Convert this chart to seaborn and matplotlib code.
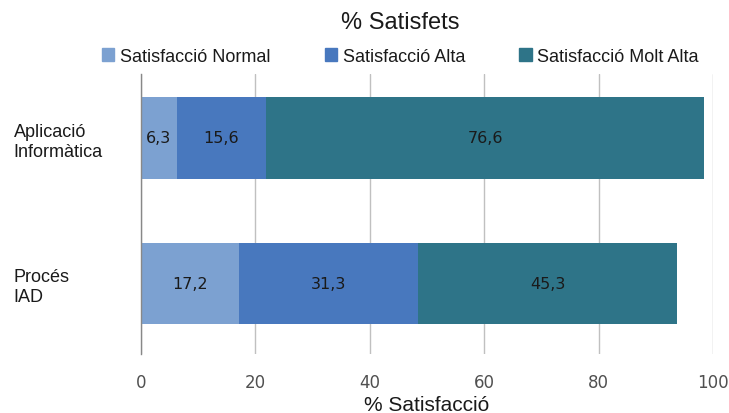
import pandas as pd
import numpy as np
import matplotlib.pyplot as plt
import seaborn as sns

# Dades llegides del gràfic
categories = ['Aplicació\nInformàtica', 'Procés\nIAD']
normal = [6.3, 17.2]
alta = [15.6, 31.3]
molt_alta = [76.6, 45.3]
series_names = ['Satisfacció Normal', 'Satisfacció Alta', 'Satisfacció Molt Alta']
colors = ['#7CA1D1', '#4878BE', '#2E7488']

sns.set_theme(style='white')
plt.rcParams['font.family'] = ['Liberation Sans', 'DejaVu Sans']

df = pd.DataFrame({'categoria': categories,
                   'Satisfacció Normal': normal,
                   'Satisfacció Alta': alta,
                   'Satisfacció Molt Alta': molt_alta})
vals = df[series_names].to_numpy()
cums = vals.cumsum(axis=1)

fig = plt.figure(figsize=(7.29, 4.14), dpi=100)
ax = fig.add_axes([0.193, 0.143, 0.785, 0.676])

# barres apilades: primer el total, a sobre els acumulats menors
for j in reversed(range(len(series_names))):
    tmp = pd.DataFrame({'categoria': categories, 'valor': cums[:, j]})
    sns.barplot(data=tmp, x='valor', y='categoria', orient='h', color=colors[j],
                width=0.56, linewidth=0, saturation=1, ax=ax)

# etiquetes de valor
for i in range(len(categories)):
    for j in range(len(series_names)):
        start = cums[i, j] - vals[i, j]
        ax.text(start + vals[i, j] / 2, i, f'{vals[i, j]:.1f}'.replace('.', ','),
                ha='center', va='center', fontsize=11.5, color='#1a1a1a',
                family=['DejaVu Sans'])

ax.set_xlim(0, 100)
ax.set_ylim(1.485, -0.44)
ax.set_xticks([0, 20, 40, 60, 80, 100])
ax.tick_params(axis='x', length=0, pad=13.5, labelsize=12, labelcolor='#505050')
for lab in ax.get_xticklabels():
    lab.set_family(['DejaVu Sans'])
ax.tick_params(axis='y', length=0, pad=91.5, labelsize=13, labelcolor='#1a1a1a')
for lab in ax.get_yticklabels():
    lab.set_horizontalalignment('left')
ax.xaxis.grid(True, color='#C0C0C0', linewidth=1)
ax.set_axisbelow(True)
for s in ['top', 'right', 'bottom']:
    ax.spines[s].set_visible(False)
ax.spines['left'].set_color('#888888')
ax.spines['left'].set_linewidth(1)
ax.set_ylabel('')
ax.set_xlabel('% Satisfacció', fontsize=15, color='#1a1a1a', labelpad=3.5)

handles = [plt.Rectangle((0, 0), 1, 1, color=c) for c in colors]
fig.legend(handles, series_names, loc='center', bbox_to_anchor=(0.549, 0.862), ncol=3,
           frameon=False, fontsize=13, handlelength=0.7, handleheight=0.7,
           handletextpad=0.3, columnspacing=3.0, labelcolor='#1a1a1a')
fig.suptitle('% Satisfets', x=0.549, y=0.972, fontsize=17, color='#1a1a1a')

fig.savefig('out.png', dpi=100)
